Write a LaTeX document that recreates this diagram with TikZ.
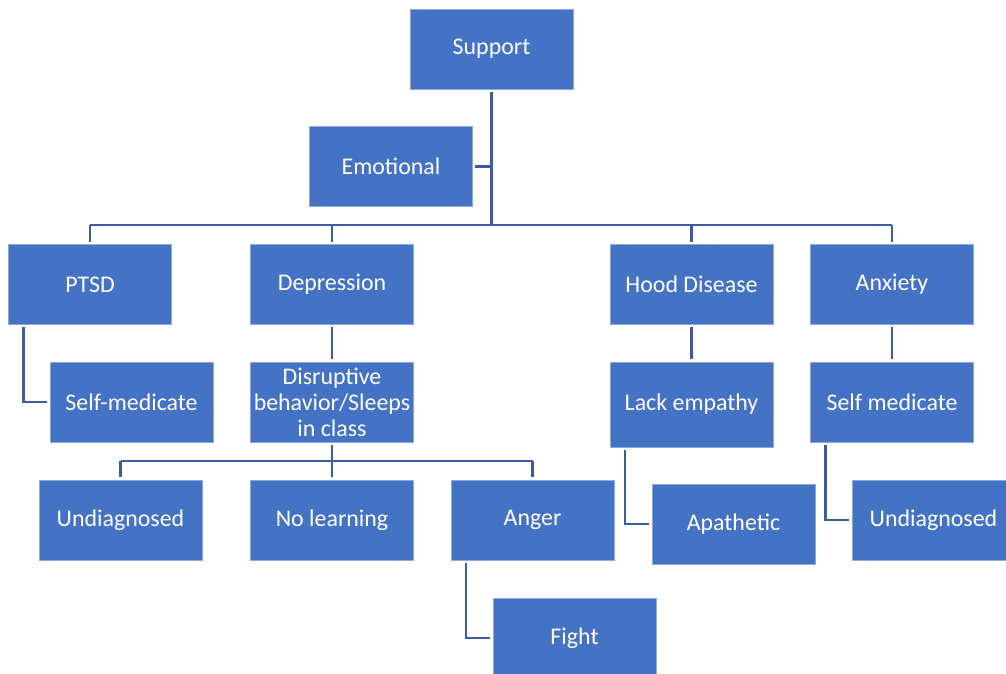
\documentclass[tikz,border=0pt]{standalone}
\usepackage{fontspec}
\setmainfont{Carlito}

\definecolor{boxblue}{RGB}{68,114,196}
\definecolor{boxedge}{RGB}{143,170,220}
\definecolor{linkblue}{RGB}{59,93,160}

\tikzset{
  topic/.style={rectangle, fill=boxblue, draw=boxedge, line width=0.4pt,
    text=white, minimum width=3.26cm, minimum height=1.6cm, align=center,
    inner sep=2pt, outer sep=1.7pt, font=\fontsize{13.6}{14.8}\selectfont},
  link/.style={draw=linkblue, line width=1.5pt}
}

\begin{document}
\begin{tikzpicture}[x=0.02cm, y=-0.02cm]
  \useasboundingbox (0,0) rectangle (1006,673);
  \clip (0,0) rectangle (1006,673);
  % root
  \node[topic] (support)   at (491.5,49)  {Support};
  \node[topic] (emotional) at (391,166.5) {Emotional};
  % second level
  \node[topic] (ptsd)       at (90,284.5)    {PTSD};
  \node[topic] (depression) at (332,284.5)   {Depression};
  \node[topic] (hood)       at (691.5,284.5) {Hood Disease};
  \node[topic] (anxiety)    at (892,284.5)   {Anxiety};
  % third level
  \node[topic] (selfmed)  at (131.5,402)  {Self-medicate};
  \node[topic] (disrupt)  at (332,402)    {Disruptive\\behavior/Sleeps\\in class};
  \node[topic, minimum height=1.7cm] (lack) at (691.5,404.5) {Lack empathy};
  \node[topic] (selfmedb) at (892,402)    {Self medicate};
  % fourth level
  \node[topic] (undiag)    at (120.5,520) {Undiagnosed};
  \node[topic] (nolearn)   at (332,520)   {No learning};
  \node[topic] (anger)     at (532.5,520) {Anger};
  \node[topic] (apathetic) at (733.5,524) {Apathetic};
  \node[topic] (undiagb)   at (933.5,520) {Undiagnosed};
  \node[topic] (fight)     at (574.5,638) {Fight};

  % connectors from the root
  \coordinate (bar) at (491,225);
  \draw[link] (support.south) -- (support.south |- bar);
  \draw[link] (emotional.east) -- (emotional.east -| support.south);
  \draw[link] (ptsd.north |- bar) -- (anxiety.north |- bar);
  \foreach \n in {ptsd,depression,hood,anxiety}
    \draw[link] (\n.north |- bar) -- (\n.north);
  \draw[link] (depression) -- (disrupt);
  \draw[link] (hood) -- (lack);
  \draw[link] (anxiety) -- (selfmedb);
  % depression branch
  \coordinate (dbar) at (332,461);
  \draw[link] (disrupt.south) -- (nolearn.north);
  \draw[link] (undiag.north |- dbar) -- (anger.north |- dbar);
  \foreach \n in {undiag,anger}
    \draw[link] (\n.north |- dbar) -- (\n.north);
  % side branches
  \draw[link] ([xshift=0.36cm]ptsd.south west) |- (selfmed.west);
  \draw[link] ([xshift=0.36cm]anger.south west) |- (fight.west);
  \draw[link] ([xshift=0.36cm]lack.south west) |- (apathetic.west);
  \draw[link] ([xshift=0.36cm]selfmedb.south west) |- (undiagb.west);
\end{tikzpicture}
\end{document}
